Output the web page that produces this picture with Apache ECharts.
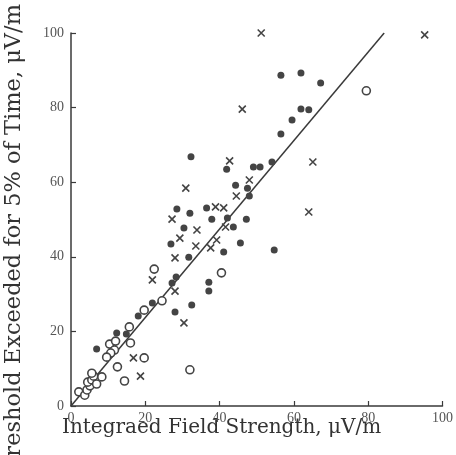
<!DOCTYPE html>
<html>
<head>
<meta charset="utf-8">
<script src="https://cdn.jsdelivr.net/npm/echarts@6/dist/echarts.min.js"></script>
<style>html,body{margin:0;padding:0;background:#fff;}#c{width:456px;height:455px;}</style>
</head>
<body>
<div id="c"></div>
<script>
var xTicks = [0, 20, 40, 60, 80, 100];
var yTicks = [0, 20, 40, 60, 80, 100];
var xTitle = 'Integraed Field Strength, \u03bcV/m';
var yTitle = 'Threshold Exceeded for 5% of Time, \u03bcV/m';

var filledDots = [
  [56.5, 88.7], [61.9, 89.3], [67.2, 86.6], [61.9, 79.6], [64.0, 79.4], [59.5, 76.7],
  [56.5, 72.9], [32.3, 66.8], [41.9, 63.5], [54.1, 65.4], [49.1, 64.1], [50.9, 64.1],
  [44.3, 59.2], [47.5, 58.4], [48.0, 56.3], [28.5, 52.8], [32.0, 51.7], [36.5, 53.1],
  [37.9, 50.1], [42.1, 50.4], [47.2, 50.1], [43.7, 48.0], [30.4, 47.7], [26.9, 43.4],
  [45.6, 43.7], [41.1, 41.3], [54.7, 41.8], [31.7, 39.9], [37.1, 33.2], [37.1, 30.8],
  [28.3, 34.6], [27.2, 33.0], [32.5, 27.1], [28.0, 25.2], [21.9, 27.6], [18.1, 24.1],
  [12.3, 19.6], [14.9, 19.3], [6.9, 15.3]
];
var openCircles = [
  [79.5, 84.5], [40.5, 35.7], [22.4, 36.7], [24.5, 28.2], [19.7, 25.7], [32.0, 9.7],
  [19.7, 12.9], [16.0, 16.9], [15.7, 21.2], [10.4, 16.6], [12.0, 17.4], [11.7, 15.0],
  [10.7, 14.2], [9.6, 13.1], [12.5, 10.5], [14.4, 6.7],
  [2.1, 3.8], [3.7, 2.9], [4.3, 4.3], [5.1, 5.4], [4.5, 6.4], [5.6, 7.0], [6.1, 8.0],
  [5.6, 8.8], [6.9, 5.9], [8.3, 7.8]
];
var crosses = [
  [51.2, 100], [95.2, 99.5], [46.1, 79.6], [42.7, 65.7], [65.1, 65.4], [64.0, 52.0],
  [30.9, 58.4], [48.0, 60.6], [44.5, 56.3], [38.9, 53.4], [41.1, 53.1], [27.2, 50.1],
  [33.9, 47.2], [41.6, 48.0], [29.3, 45.0], [33.6, 42.9], [39.2, 44.5], [37.6, 42.4],
  [28.0, 39.7], [21.9, 33.8], [28.0, 30.8], [30.4, 22.3], [16.8, 12.9], [18.7, 8.0]
];
var fitLine = [[0, 0], [84.3, 100]];

var ink = '#3a3a3a';
var chart = echarts.init(document.getElementById('c'));
chart.setOption({
  animation: false,
  backgroundColor: '#ffffff',
  grid: { left: 71, top: 33, right: 10, bottom: 49, containLabel: false },
  xAxis: {
    type: 'value', min: xTicks[0], max: xTicks[xTicks.length - 1], interval: 20,
    axisLine: { show: true, onZero: false, lineStyle: { color: ink, width: 1.5 } },
    axisTick: { show: true, inside: true, length: 5, lineStyle: { color: ink, width: 1.2 } },
    axisLabel: { color: '#555', fontFamily: 'Liberation Serif', fontSize: 14, margin: 5 },
    splitLine: { show: false }
  },
  yAxis: {
    type: 'value', min: yTicks[0], max: yTicks[yTicks.length - 1], interval: 20,
    axisLine: { show: true, onZero: false, lineStyle: { color: ink, width: 1.5 } },
    axisTick: { show: true, inside: true, length: 5, lineStyle: { color: ink, width: 1.2 } },
    axisLabel: { color: '#555', fontFamily: 'Liberation Serif', fontSize: 14, margin: 7 },
    splitLine: { show: false }
  },
  graphic: [
    { type: 'text', left: 62, top: 418,
      style: { text: xTitle, fill: '#333', font: '20px "DejaVu Serif"' } },
    { type: 'text', x: 3, y: 4, rotation: Math.PI / 2,
      style: { text: yTitle, fill: '#333', font: '22.5px "DejaVu Serif"', textAlign: 'right', textVerticalAlign: 'top' } }
  ],
  series: [
    { type: 'line', data: fitLine, symbol: 'none', lineStyle: { color: ink, width: 1.5 }, z: 1 },
    { type: 'scatter', data: filledDots, symbol: 'circle', symbolSize: 7,
      itemStyle: { color: '#444', opacity: 1 }, z: 3, clip: false },
    { type: 'scatter', data: openCircles, symbol: 'circle', symbolSize: 8,
      itemStyle: { color: '#ffffff', borderColor: '#444', borderWidth: 1.6, opacity: 1 }, z: 4, clip: false },
    { type: 'scatter', data: crosses, symbol: 'path://M0,0L10,10M10,0L0,10', symbolSize: 7,
      itemStyle: { color: '#444', borderColor: '#444', borderWidth: 1.6, opacity: 1 }, z: 4, clip: false }
  ]
});
</script>
</body>
</html>
